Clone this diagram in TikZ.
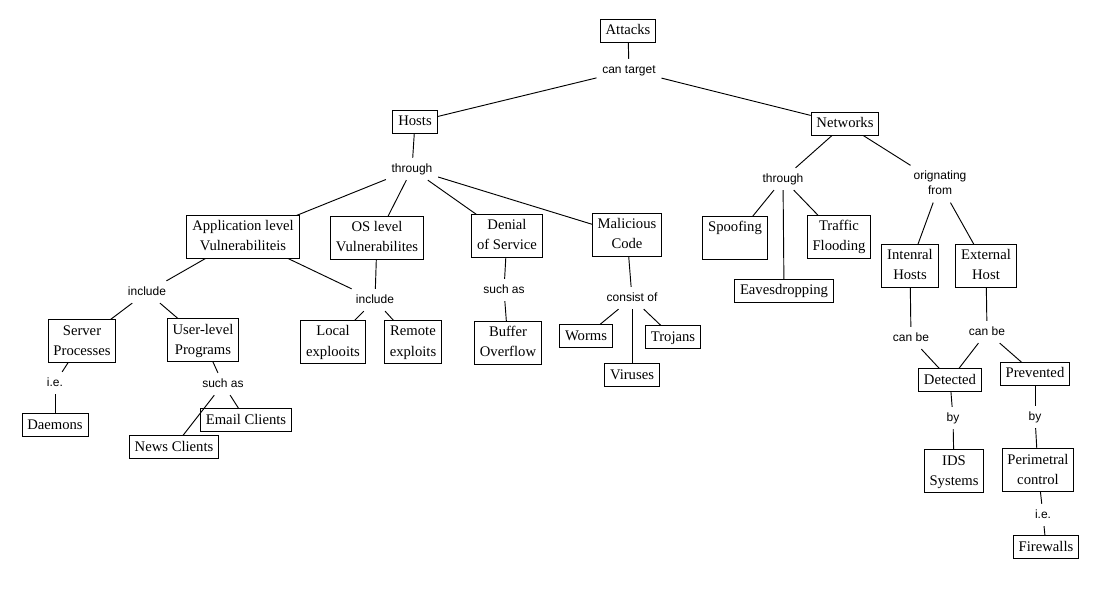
\documentclass[tikz,border=0pt]{standalone}
\usepackage{fontspec}
\setmainfont{Liberation Serif}
\newfontfamily\phrasefont{Liberation Sans}
\newcommand{\conceptfont}{\fontsize{11}{15}\selectfont}
\newcommand{\linkfont}{\phrasefont\fontsize{9}{11.25}\selectfont}

\begin{document}
\begin{tikzpicture}[x=0.75pt,y=-0.75pt,line width=0.7pt,
  concept/.style={rectangle,draw,font=\conceptfont,align=center,inner xsep=4pt,inner ysep=0.8pt,text height=10.5pt,text depth=4.5pt},
  tall/.style={text height=25.5pt},
  phrase/.style={font=\linkfont,align=center,inner xsep=4pt,inner ysep=3.5pt,text height=7pt,text depth=2pt}]
\useasboundingbox (0,0) rectangle (1120,598);

% Nodes
\node[concept] (attacks) at (628,31) {Attacks};
\node[phrase] (cantarget) at (629,70) {can target};
\node[concept] (hosts) at (415,122) {Hosts};
\node[concept] (networks) at (845,124) {Networks};
\node[phrase] (throughh) at (412,169) {through};
\node[phrase] (throughn) at (783,179) {through};
\node[phrase,text height=18.25pt] (orig) at (940,184) {orignating\\from};

\node[concept,tall] (appvul) at (243,237) {Application level\\Vulnerabiliteis};
\node[concept,tall] (osvul) at (377,238) {OS level\\Vulnerabilites};
\node[concept,tall] (dos) at (507,236) {Denial\\of Service};
\node[concept,tall] (malcode) at (627,235) {Malicious\\Code};
\node[concept,tall] (spoofing) at (735,238) {Spoofing\\\mbox{}};
\node[concept,tall] (traffic) at (839,237) {Traffic\\Flooding};
\node[concept] (eaves) at (784,291) {Eavesdropping};
\node[concept,tall] (intern) at (910,266) {Intenral\\Hosts};
\node[concept,tall] (extern) at (986,266) {External\\Host};

\node[phrase] (includea) at (147,292) {include};
\node[phrase] (includeb) at (375,300) {include};
\node[phrase] (suchasd) at (504,290) {such as};
\node[phrase] (consist) at (632,298) {consist of};
\node[phrase] (canbei) at (911,338) {can be};
\node[phrase] (canbee) at (987,332) {can be};

\node[concept,tall] (server) at (82,341) {Server\\Processes};
\node[concept,tall] (userlvl) at (203,340) {User-level\\Programs};
\node[concept,tall] (local) at (333,342) {Local\\explooits};
\node[concept,tall] (remote) at (413,342) {Remote\\exploits};
\node[concept,tall] (buffer) at (508,343) {Buffer\\Overflow};
\node[concept] (worms) at (586,336) {Worms};
\node[concept] (trojans) at (673,337) {Trojans};
\node[concept] (viruses) at (632,375) {Viruses};
\node[concept] (detected) at (950,380) {Detected};
\node[concept] (prevented) at (1035,374) {Prevented};

\node[phrase] (ies) at (55,383) {i.e.};
\node[phrase] (suchasu) at (223,384) {such as};
\node[phrase] (byd) at (953,418) {by};
\node[phrase] (byp) at (1035,417) {by};
\node[concept] (daemons) at (55,425) {Daemons};
\node[concept] (email) at (246,420) {Email Clients};
\node[concept] (news) at (174,447) {News Clients};
\node[concept,tall] (ids) at (954,471) {IDS\\Systems};
\node[concept,tall] (perim) at (1038,470) {Perimetral\\control};
\node[phrase] (iep) at (1043,515) {i.e.};
\node[concept] (firewalls) at (1046,547) {Firewalls};

%arcs
\path (attacks) edge (cantarget);
\path (cantarget) edge (hosts);
\path (cantarget) edge (networks);
\path (hosts) edge (throughh);
\path (throughh) edge (appvul);
\path (throughh) edge (osvul);
\path (throughh) edge (dos);
\path (throughh) edge (malcode);
\path (networks) edge (throughn);
\path (networks) edge (orig);
\path (throughn) edge (spoofing);
\path (throughn) edge (eaves);
\path (throughn) edge (traffic);
\path (orig) edge (intern);
\path (orig) edge (extern);
\path (appvul) edge (includea);
\path (appvul) edge (includeb);
\path (osvul) edge (includeb);
\path (includea) edge (server);
\path (includea) edge (userlvl);
\path (includeb) edge (local);
\path (includeb) edge (remote);
\path (server) edge (ies);
\path (ies) edge (daemons);
\path (userlvl) edge (suchasu);
\path (suchasu) edge (email);
\path (suchasu) edge (news);
\path (dos) edge (suchasd);
\path (suchasd) edge (buffer);
\path (malcode) edge (consist);
\path (consist) edge (worms);
\path (consist) edge (trojans);
\path (consist) edge (viruses);
\path (intern) edge (canbei);
\path (extern) edge (canbee);
\path (canbei) edge (detected);
\path (canbee) edge (detected);
\path (canbee) edge (prevented);
\path (detected) edge (byd);
\path (byd) edge (ids);
\path (prevented) edge (byp);
\path (byp) edge (perim);
\path (perim) edge (iep);
\path (iep) edge (firewalls);

\end{tikzpicture}
\end{document}
